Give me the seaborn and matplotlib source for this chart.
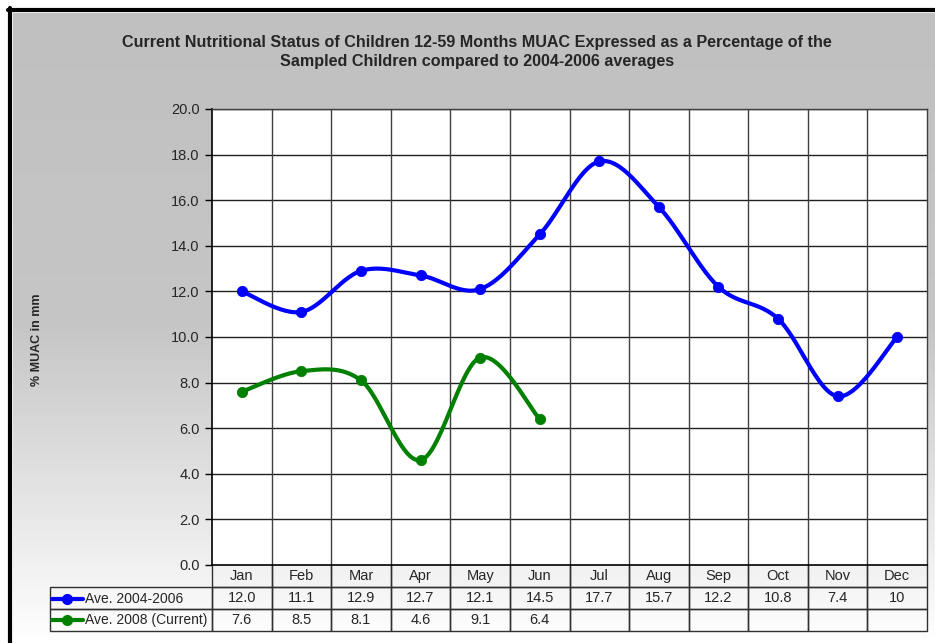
import numpy as np
import pandas as pd
import seaborn as sns
import matplotlib.pyplot as plt
from matplotlib.lines import Line2D

# data
months = ["Jan", "Feb", "Mar", "Apr", "May", "Jun", "Jul", "Aug", "Sep", "Oct", "Nov", "Dec"]
avg_2004_2006 = [12.0, 11.1, 12.9, 12.7, 12.1, 14.5, 17.7, 15.7, 12.2, 10.8, 7.4, 10]
avg_2008 = [7.6, 8.5, 8.1, 4.6, 9.1, 6.4]
series_names = ["Ave. 2004-2006", "Ave. 2008 (Current)"]
series_colors = ["#0000FF", "#008000"]

sns.set_style("white")
plt.rcParams["font.family"] = ["Liberation Sans", "DejaVu Sans"]


def smooth(y, n=30):
    # excel-like smoothed line (catmull-rom bezier through the points)
    x = np.arange(len(y), dtype=float)
    p = np.column_stack([x, np.asarray(y, dtype=float)])
    pts = []
    for i in range(len(p) - 1):
        p0 = p[max(i - 1, 0)]
        p1, p2 = p[i], p[i + 1]
        p3 = p[min(i + 2, len(p) - 1)]
        c1 = p1 + (p2 - p0) / 6
        c2 = p2 - (p3 - p1) / 6
        t = np.linspace(0, 1, n)[:, None]
        seg = (1 - t) ** 3 * p1 + 3 * (1 - t) ** 2 * t * c1 + 3 * (1 - t) * t ** 2 * c2 + t ** 3 * p2
        pts.append(seg if i == 0 else seg[1:])
    pts = np.vstack(pts)
    return pd.DataFrame({"x": pts[:, 0], "y": pts[:, 1]})


fig = plt.figure(figsize=(9.35, 6.43), dpi=100)
fig.patch.set_facecolor("white")

# gradient background panel + black frame
W, H = 935, 643
bg = fig.add_axes([13 / W, 0, 1 - 13 / W, 1 - 13 / H])
grad = np.linspace(0, 1, 256)[:, None]
bg.imshow(grad, aspect="auto", cmap=sns.blend_palette(["#C0C0C0", "#C6C6C6", "#FFFFFF"], as_cmap=True),
          extent=[0, 1, 0, 1])
bg.set_axis_off()
fig.add_artist(Line2D([9.5 / W, 9.5 / W], [0, 1 - 8 / H], color="black", lw=3, transform=fig.transFigure))
fig.add_artist(Line2D([8 / W, 1], [1 - 9.5 / H, 1 - 9.5 / H], color="black", lw=3, transform=fig.transFigure))

ax = fig.add_axes([212 / W, 1 - 565 / H, 715 / W, 456 / H])
ax.set_facecolor("white")

for vals, name, col in zip([avg_2004_2006, avg_2008], series_names, series_colors):
    sm = smooth(vals)
    sns.lineplot(data=sm, x="x", y="y", ax=ax, color=col, lw=3, sort=False, estimator=None, zorder=3)
    pts = pd.DataFrame({"x": np.arange(len(vals)), "y": vals})
    sns.scatterplot(data=pts, x="x", y="y", ax=ax, color=col, s=55, edgecolor=col, zorder=4)

ax.set_xlim(-0.5, 11.5)
ax.set_ylim(0, 20)
ax.set_yticks(np.arange(0, 21, 2))
ax.set_yticklabels([f"{v:.1f}" for v in np.arange(0, 21, 2)], fontsize=10.5)
ax.set_xticks([])
ax.set_xlabel("")
ax.set_ylabel("")
ax.tick_params(axis="y", direction="out", length=5, width=1, color="black", left=True, pad=4)
for v in np.arange(2, 21, 2):
    ax.axhline(v, color="#202020", lw=1, zorder=1)
for v in np.arange(0.5, 11, 1):
    ax.axvline(v, color="#404040", lw=1, zorder=1)
for s in ["top", "right"]:
    ax.spines[s].set_color("#404040")
    ax.spines[s].set_linewidth(1)
for s in ["left", "bottom"]:
    ax.spines[s].set_color("black")
    ax.spines[s].set_linewidth(1.2)

# data table under the plot
def fmt(v):
    return str(v) if isinstance(v, int) else f"{v:.1f}"

rows = [[""] + months,
        [""] + [fmt(v) for v in avg_2004_2006],
        [""] + [fmt(v) for v in avg_2008] + [""] * (12 - len(avg_2008))]
lw_col = 162 / 715
tbl = ax.table(cellText=rows, colWidths=[lw_col] + [1 / 12] * 12, cellLoc="center",
               bbox=[-lw_col, -66 / 456, 1 + lw_col, 66 / 456])
tbl.auto_set_font_size(False)
tbl.set_fontsize(10.5)
for (r, c), cell in tbl.get_celld().items():
    cell.set_edgecolor("#303030")
    cell.set_linewidth(1)
    cell.set_facecolor("none")
    if r == 0:
        cell.visible_edges = "" if c == 0 else "BLR"

row_y = [-34 / 456, -55 / 456]
for yy, name, col in zip(row_y, series_names, series_colors):
    ax.plot([-160 / 715, -129 / 715], [yy, yy], color=col, lw=3, transform=ax.transAxes, clip_on=False)
    ax.plot([-145 / 715], [yy], marker="o", ms=7, color=col, transform=ax.transAxes, clip_on=False)
    ax.text(-127 / 715, yy, name, fontsize=10, va="center", ha="left", transform=ax.transAxes)

fig.text(477 / W, 1 - 52 / H,
         "Current Nutritional Status of Children 12-59 Months MUAC Expressed as a Percentage of the\n"
         "Sampled Children compared to 2004-2006 averages",
         ha="center", va="center", fontsize=11.6, fontweight="bold", linespacing=1.3)
fig.text(37 / W, 1 - 340 / H, "% MUAC in mm", rotation=90, ha="center", va="center",
         fontsize=9, fontweight="bold")

fig.savefig("out.png", dpi=100)
